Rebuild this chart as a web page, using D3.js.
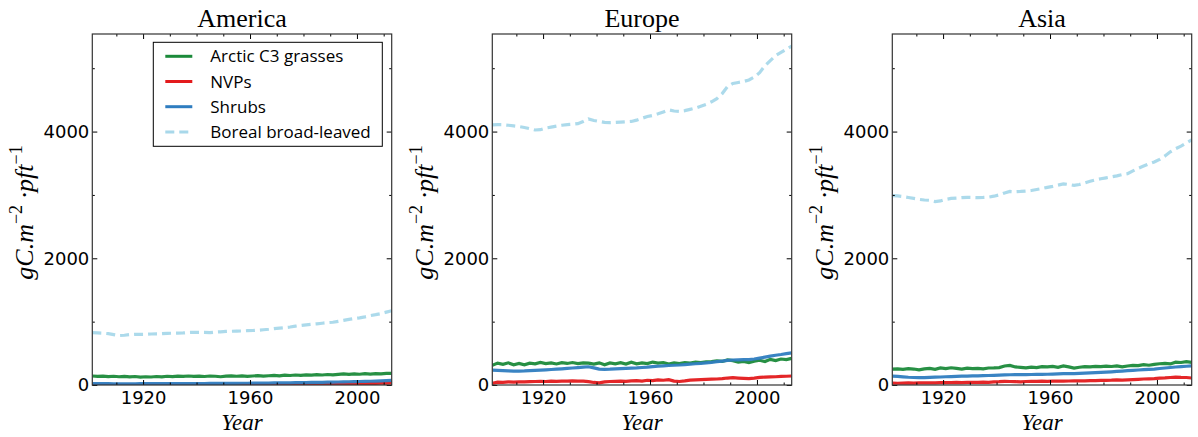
<!DOCTYPE html>
<html>
<head>
<meta charset="utf-8">
<script src="https://cdn.jsdelivr.net/npm/d3@7"></script>
<style>
  html, body { margin: 0; padding: 0; background: #fff; }
  svg { display: block; }
</style>
</head>
<body>
<svg id="chart" width="1198" height="437"></svg>
<script>
// ---------------- DATA ----------------
const regions = ["America", "Europe", "Asia"];
const seriesNames = ["Arctic C3 grasses", "NVPs", "Shrubs", "Boreal broad-leaved"];
// sampled every 2 years, 1901..2013
const years = d3.range(1901, 2014, 2);
const yTickValues = [0, 2000, 4000];
const xTickValues = [1920, 1960, 2000];

const americaGrass = [142,135,140,132,138,130,136,128,134,125, 130,126,134,128,138,132,140,135,142,136,
  140,134,142,138,130,140,145,138,144,136, 142,148,140,146,152,145,155,150,158,152,
  160,155,163,158,166,160,168,175,168,176, 170,178,172,180,176,184,182];
const americaNVP = [3,3,3,3,3,3,3,3,3,3, 3,3,3,3,3,3,3,3,3,3, 4,4,4,4,4,4,5,5,5,5,
  5,6,6,6,7,7,8,8,9,9, 10,11,12,13,14,15,16,17,18,19, 21,22,24,26,28,30,33];
const americaShrub = [22,22,21,21,20,20,20,20,20,21, 21,21,22,22,22,22,23,23,23,24, 24,24,25,25,26,26,27,27,28,28,
  29,30,30,31,32,33,34,35,36,37, 38,40,41,42,44,45,47,49,51,53, 55,57,59,62,65,68,72];
const americaBoreal = [826,822,818,810,795,780,785,795,800,800, 800,805,808,810,815,818,820,822,828,832,
  832,830,828,835,840,845,848,850,853,858, 860,865,872,880,890,898,905,915,928,940,
  950,958,965,975,985,990,1005,1020,1035,1048, 1060,1075,1095,1110,1128,1150,1172];

const europeGrass = [310,345,325,350,320,340,318,345,335,355, 338,350,332,352,340,355,338,350,345,330,
  350,320,348,335,352,330,360,335,350,338, 362,345,355,330,348,338,355,345,360,352,
  365,370,380,372,395,385,360,372,355,375, 390,370,405,385,410,400,420];
const europeNVP = [25,45,42,48,45,50,48,52,55,58, 55,60,58,62,60,65,62,60,52,40,
  35,50,55,58,62,56,65,70,62,75, 70,80,75,85,62,55,65,78,82,85,
  88,92,95,100,110,115,110,105,100,108, 120,125,128,130,135,138,142];
const europeShrub = [235,232,228,224,220,220,222,226,230,235, 240,245,250,256,262,268,275,282,288,270,
  250,248,250,255,258,262,266,270,276,282, 290,296,302,308,312,316,322,328,335,342,
  350,358,368,378,388,395,398,400,402,410, 425,440,455,470,482,496,508];
const europeBoreal = [4105,4110,4108,4100,4090,4080,4065,4045,4025,4030, 4055,4070,4085,4100,4110,4115,4125,4160,4200,4175,
  4160,4145,4140,4145,4150,4155,4160,4180,4210,4237, 4255,4280,4310,4342,4325,4318,4330,4350,4370,4400,
  4430,4470,4520,4600,4710,4760,4775,4790,4815,4860, 4930,5040,5120,5200,5250,5300,5350];

const asiaGrass = [250,255,248,258,252,240,255,262,248,270, 258,272,262,252,265,258,262,255,268,270,
  275,300,310,285,278,270,282,275,290,285, 295,280,300,285,268,280,290,285,295,290,
  298,292,302,285,300,310,305,322,312,325, 335,340,332,360,355,370,358];
const asiaNVP = [30,28,30,32,30,32,34,33,35,36, 38,37,40,38,41,40,42,44,42,48,
  52,58,55,52,50,55,58,56,60,58, 60,62,60,63,65,64,66,68,70,72,
  74,76,80,78,82,86,90,95,98,102, 108,112,118,125,120,118,110];
const asiaShrub = [140,135,128,122,118,115,117,120,123,126, 130,133,136,139,141,143,145,147,150,153,
  157,160,162,163,164,165,166,167,168,170, 172,175,178,180,181,183,186,190,194,198,
  203,208,214,220,226,232,237,242,247,252, 260,268,276,284,290,296,302];
const asiaBoreal = [2990,2985,2975,2960,2945,2930,2920,2915,2895,2905, 2930,2945,2950,2958,2962,2960,2958,2960,2965,2980,
  3000,3030,3055,3050,3055,3062,3070,3085,3100,3120, 3135,3155,3175,3165,3150,3165,3190,3215,3237,3255,
  3270,3285,3300,3320,3335,3380,3420,3455,3490,3520, 3560,3615,3680,3730,3770,3820,3870];

const panelData = [
  [americaGrass, americaNVP, americaShrub, americaBoreal],
  [europeGrass, europeNVP, europeShrub, europeBoreal],
  [asiaGrass, asiaNVP, asiaShrub, asiaBoreal]
];

// ---------------- STYLE ----------------
const colors = ["#1b8a3a", "#e31a1c", "#2f7dc0", "#a8d8ea"];
const dashes = [null, null, null, "9,5"];

const svg = d3.select("#chart");
const panelLeft = [92.3, 492.3, 892.3];
const pw = 299.4, plotTop = 34, plotBottom = 385;
const ph = plotBottom - plotTop;

const x = d3.scaleLinear().domain([1901, 2013]).range([0, pw]);
const y = d3.scaleLinear().domain([0, 5540]).range([ph, 0]);

const defs = svg.append("defs");
defs.append("clipPath").attr("id", "clip").append("rect").attr("width", pw).attr("height", ph);

panelData.forEach((data, p) => {
  const g = svg.append("g").attr("transform", `translate(${panelLeft[p]},${plotTop})`);

  // lines
  const lg = g.append("g").attr("clip-path", "url(#clip)");
  data.forEach((vals, s) => {
    const line = d3.line().x((d, i) => x(years[i])).y(d => y(d));
    lg.append("path")
      .attr("d", line(vals))
      .attr("fill", "none")
      .attr("stroke", colors[s])
      .attr("stroke-width", 3.2)
      .attr("stroke-opacity", 0.95)
      .attr("stroke-dasharray", dashes[s]);
  });

  // axes: inward ticks on all sides
  const axisStyle = sel => {
    sel.select(".domain").remove();
    sel.selectAll("line").attr("stroke", "#000").attr("stroke-width", 1);
  };
  const minorX = d3.range(1910, 2014, 10).filter(v => !xTickValues.includes(v));
  const minorY = [1000, 3000, 5000];

  // bottom
  g.append("g").attr("transform", `translate(0,${ph})`)
    .call(d3.axisBottom(x).tickValues(xTickValues).tickFormat(d3.format("d")).tickSize(-5).tickPadding(6))
    .call(axisStyle)
    .call(s => s.selectAll("text").attr("font-family", "DejaVu Sans").attr("font-size", 18).attr("fill", "#000"));
  g.append("g").attr("transform", `translate(0,${ph})`)
    .call(d3.axisBottom(x).tickValues(minorX).tickFormat("").tickSize(-2.5))
    .call(axisStyle);
  // top
  g.append("g")
    .call(d3.axisTop(x).tickValues(xTickValues).tickFormat("").tickSize(-5))
    .call(axisStyle);
  g.append("g")
    .call(d3.axisTop(x).tickValues(minorX).tickFormat("").tickSize(-2.5))
    .call(axisStyle);
  // left
  g.append("g")
    .call(d3.axisLeft(y).tickValues(yTickValues).tickFormat(d3.format("d")).tickSize(-5).tickPadding(3))
    .call(axisStyle)
    .call(s => s.selectAll("text").attr("font-family", "DejaVu Sans").attr("font-size", 18).attr("fill", "#000"));
  g.append("g")
    .call(d3.axisLeft(y).tickValues(minorY).tickFormat("").tickSize(-2.5))
    .call(axisStyle);
  // right
  g.append("g").attr("transform", `translate(${pw},0)`)
    .call(d3.axisRight(y).tickValues(yTickValues).tickFormat("").tickSize(-5))
    .call(axisStyle);
  g.append("g").attr("transform", `translate(${pw},0)`)
    .call(d3.axisRight(y).tickValues(minorY).tickFormat("").tickSize(-2.5))
    .call(axisStyle);

  // frame
  g.append("rect").attr("width", pw).attr("height", ph)
    .attr("fill", "none").attr("stroke", "#333").attr("stroke-width", 1.2);

  // title
  g.append("text").attr("x", pw / 2).attr("y", 27 - plotTop)
    .attr("text-anchor", "middle")
    .attr("font-family", "Liberation Serif").attr("font-size", 26).attr("fill", "#000")
    .text(regions[p]);

  // x label
  g.append("text").attr("x", pw / 2).attr("y", 430 - plotTop)
    .attr("text-anchor", "middle")
    .attr("font-family", "Liberation Serif").attr("font-style", "italic")
    .attr("font-size", 23).attr("fill", "#000")
    .text("Year");

  // y label
  const yl = g.append("text")
    .attr("transform", `translate(${33 - 92.3},${ph / 2 + 3}) rotate(-90)`)
    .attr("text-anchor", "middle")
    .attr("font-family", "Liberation Serif").attr("font-style", "italic")
    .attr("font-size", 26).attr("fill", "#000");
  yl.append("tspan").text("gC.m");
  yl.append("tspan").attr("dy", -11).attr("font-size", 18).attr("font-style", "normal").text("\u22122");
  yl.append("tspan").attr("dy", 11).text(" \u00b7pft");
  yl.append("tspan").attr("dy", -11).attr("font-size", 18).attr("font-style", "normal").text("\u22121");

  // legend (first panel only)
  if (p === 0) {
    const lgd = g.append("g").attr("transform", `translate(${153.3 - 92.3},${42.3 - plotTop})`);
    lgd.append("rect").attr("width", 229).attr("height", 104)
      .attr("fill", "#fff").attr("stroke", "#000").attr("stroke-width", 1);
    seriesNames.forEach((name, s) => {
      const ry = 14 + s * 25.2;
      lgd.append("line").attr("x1", 12).attr("x2", 39).attr("y1", ry).attr("y2", ry)
        .attr("stroke", colors[s]).attr("stroke-width", 3)
        .attr("stroke-dasharray", dashes[s]);
      lgd.append("text").attr("x", 57).attr("y", ry).attr("dy", "0.36em")
        .attr("font-family", "Open Sans").attr("font-size", 17).attr("fill", "#000")
        .text(name);
    });
  }
});
</script>
</body>
</html>
